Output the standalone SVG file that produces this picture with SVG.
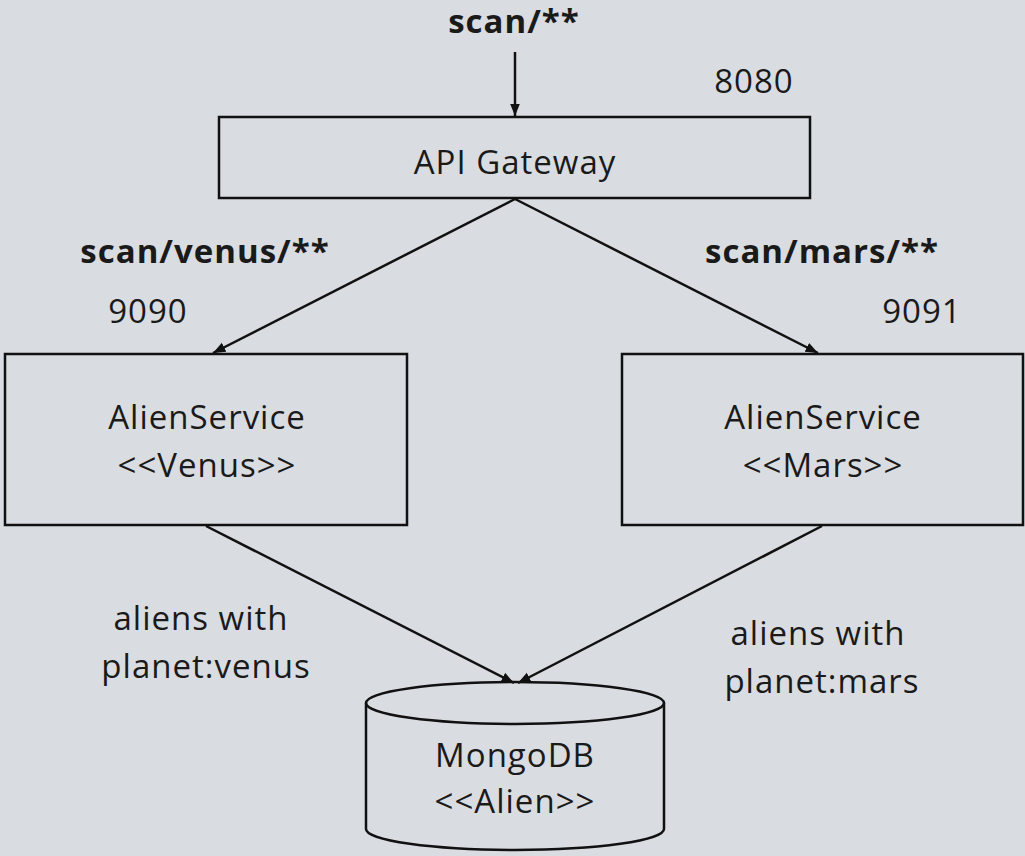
<svg xmlns="http://www.w3.org/2000/svg" width="1025" height="856" viewBox="0 0 1025 856">
<style>
text{font-family:"Open Sans",Lato,"Liberation Sans",sans-serif;font-size:33px;letter-spacing:1px;fill:#1a1a1a;text-anchor:middle}
.b{font-weight:bold}
.box{fill:none;stroke:#111;stroke-width:2.5}
.edge{fill:none;stroke:#111;stroke-width:2.5}
</style>
<defs>
<marker id="ah" viewBox="0 0 10 10" refX="10" refY="5" markerWidth="5" markerHeight="5" orient="auto" markerUnits="strokeWidth">
<path d="M0,1 L10,5 L0,9 z" fill="#111"/>
</marker>
</defs>
<rect width="1025" height="856" fill="#d9dce0"/>
<g id="connectors">
<line class="edge" x1="515" y1="52" x2="515" y2="116" marker-end="url(#ah)"/>
<line class="edge" x1="515" y1="199" x2="213" y2="353" marker-end="url(#ah)"/>
<line class="edge" x1="515" y1="199" x2="818" y2="353" marker-end="url(#ah)"/>
<line class="edge" x1="206" y1="526" x2="514" y2="683" marker-end="url(#ah)"/>
<line class="edge" x1="822" y1="526" x2="518" y2="683" marker-end="url(#ah)"/>
</g>
<g id="labels">
<text class="b" x="514" y="33">scan/**</text>
<text x="754" y="93">8080</text>
<text class="b" x="205" y="263">scan/venus/**</text>
<text x="148" y="323">9090</text>
<text class="b" x="822" y="263">scan/mars/**</text>
<text x="922" y="323">9091</text>
<text x="201" y="630">aliens with</text>
<text x="206" y="678">planet:venus</text>
<text x="818" y="645">aliens with</text>
<text x="822" y="693">planet:mars</text>
</g>
<g id="gateway">
<rect class="box" x="219" y="117" width="591" height="81"/>
<text x="515" y="174">API Gateway</text>
</g>
<g id="venus">
<rect class="box" x="5" y="354" width="402" height="171"/>
<text x="207" y="429">AlienService</text>
<text x="207" y="477">&lt;&lt;Venus&gt;&gt;</text>
</g>
<g id="mars">
<rect class="box" x="622" y="354" width="401" height="171"/>
<text x="823" y="429">AlienService</text>
<text x="823" y="477">&lt;&lt;Mars&gt;&gt;</text>
</g>
<g id="mongodb">
<path class="box" d="M366,703 L366,829 A149,21 0 0 0 664,829 L664,703"/>
<ellipse class="box" cx="515" cy="703" rx="149" ry="21"/>
<text x="515" y="767">MongoDB</text>
<text x="515" y="813">&lt;&lt;Alien&gt;&gt;</text>
</g>
</svg>
